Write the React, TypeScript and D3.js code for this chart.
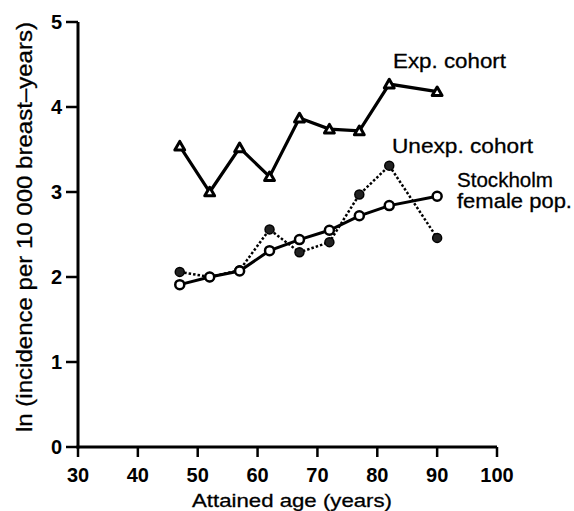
import React from "react";
import * as d3 from "d3";

const ages = [47, 52, 57, 62, 67, 72, 77, 82, 90];
const expCohort = [3.54, 3.0, 3.52, 3.18, 3.87, 3.74, 3.72, 4.27, 4.18];
const unexpCohort = [2.06, 2.0, 2.08, 2.56, 2.29, 2.41, 2.97, 3.31, 2.46];
const stockholm = [1.91, 2.0, 2.07, 2.31, 2.44, 2.55, 2.72, 2.84, 2.95];
const xTicks = [30, 40, 50, 60, 70, 80, 90, 100];
const yTicks = [0, 1, 2, 3, 4, 5];

const W = 574, H = 511;
const FONT = "'Liberation Sans', Arial, Helvetica, sans-serif";

export default function App() {
  const x = d3.scaleLinear().domain([30, 100]).range([78, 497]);
  const y = d3.scaleLinear().domain([0, 5]).range([447, 22]);
  const line = d3.line<[number, number]>().x(d => x(d[0])).y(d => y(d[1]));
  const pts = (vals: number[]) => ages.map((a, i) => [a, vals[i]] as [number, number]);
  const tri = d3.symbol().type(d3.symbolTriangle).size(42);
  const lbl = { fontSize: 20, stroke: "#000", strokeWidth: 0.3, lengthAdjust: "spacingAndGlyphs" as const };

  return (
    <svg width={W} height={H} style={{ position: "absolute", left: 0, top: 0, background: "#fff" }} fontFamily={FONT}>
      {/* axes */}
      <line x1={x(30)} x2={x(30)} y1={y(5)} y2={y(0) + 1.5} stroke="#000" strokeWidth={3} />
      <line x1={x(30) - 1.5} x2={x(100)} y1={y(0)} y2={y(0)} stroke="#000" strokeWidth={3} />
      {yTicks.map(t => (
        <g key={"y" + t}>
          <line x1={x(30) - 12} x2={x(30)} y1={y(t)} y2={y(t)} stroke="#000" strokeWidth={2.5} />
          <text x={x(30) - 16} y={y(t) + 7} textAnchor="end" fontSize={20} fontWeight="bold">{t}</text>
        </g>
      ))}
      {xTicks.map(t => (
        <g key={"x" + t}>
          <line x1={x(t)} x2={x(t)} y1={y(0)} y2={y(0) + 10} stroke="#000" strokeWidth={2.5} />
          <text x={x(t)} y={482} textAnchor="middle" fontSize={20} fontWeight="bold">{t}</text>
        </g>
      ))}
      <text x={192} y={507} {...lbl} fontSize={19} textLength={200}>Attained age (years)</text>
      <text transform={`translate(32,432) rotate(-90)`} {...lbl} fontSize={22} textLength={410}>
        ln (incidence per 10 000 breast–years)
      </text>

      {/* unexposed dotted */}
      <path d={line(pts(unexpCohort)) || ""} fill="none" stroke="#000" strokeWidth={2.5} strokeDasharray="2.5,2" />
      {/* Stockholm */}
      <path d={line(pts(stockholm)) || ""} fill="none" stroke="#000" strokeWidth={3} />
      {/* Exposed */}
      <path d={line(pts(expCohort)) || ""} fill="none" stroke="#000" strokeWidth={3.2} />

      {pts(unexpCohort).map((p, i) => (
        <circle key={"u" + i} cx={x(p[0])} cy={y(p[1])} r={4.5} fill="#222" stroke="#000" strokeWidth={1.5} />
      ))}
      {pts(stockholm).map((p, i) => (
        <circle key={"s" + i} cx={x(p[0])} cy={y(p[1])} r={4.5} fill="#fff" stroke="#000" strokeWidth={2.5} />
      ))}
      {pts(expCohort).map((p, i) => (
        <path key={"e" + i} d={tri() || ""} transform={`translate(${x(p[0])},${y(p[1]) + 1})`} fill="#fff" stroke="#000" strokeWidth={3} strokeLinejoin="round" />
      ))}

      <text x={393} y={68} {...lbl} fontSize={21} textLength={113}>Exp. cohort</text>
      <text x={392} y={153} {...lbl} fontSize={21} textLength={141}>Unexp. cohort</text>
      <text x={457} y={187} {...lbl} fontSize={21} textLength={96}>Stockholm</text>
      <text x={457} y={208} {...lbl} fontSize={21} textLength={115}>female pop.</text>
    </svg>
  );
}
